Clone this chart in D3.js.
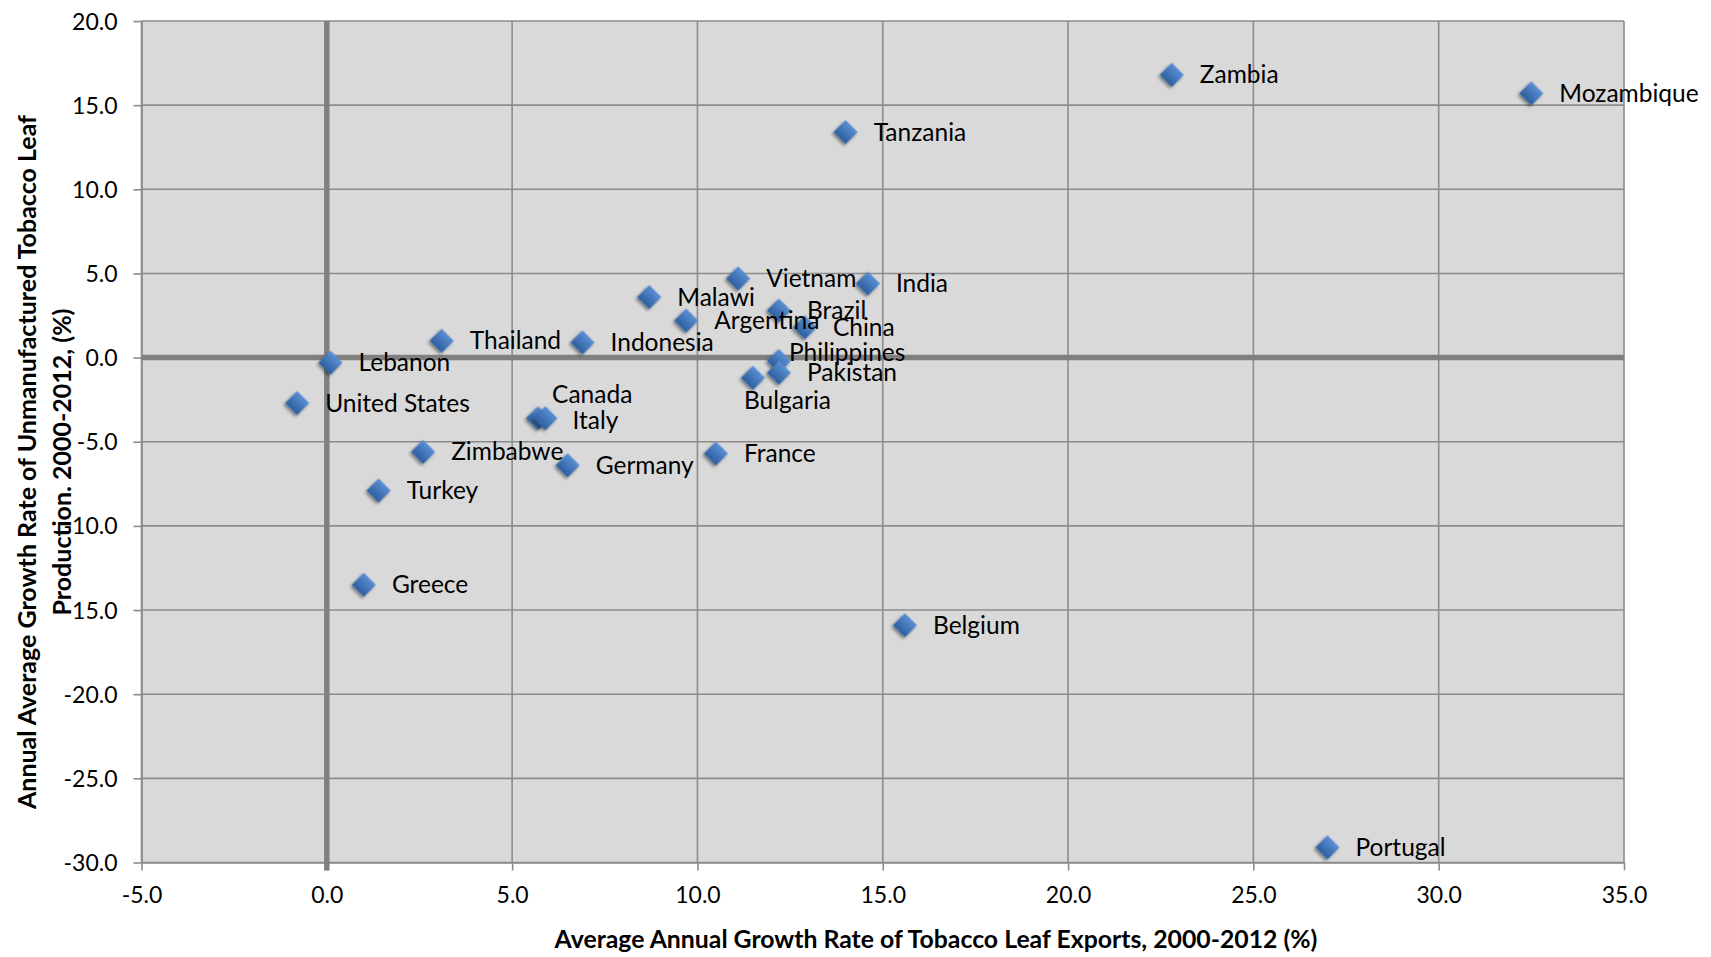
<!DOCTYPE html>
<html><head><meta charset="utf-8">
<script src="https://cdn.jsdelivr.net/npm/d3@7"></script>
<style>
body{margin:0;background:#fff}
svg text{font-family:Lato,"Open Sans",sans-serif;fill:#000}
</style>
</head><body>
<svg id="chart" width="1711" height="957"></svg>
<script>
// ---- data ----
const countries = ["Zambia","Mozambique","Tanzania","Vietnam","India","Malawi","Brazil","Argentina","China","Thailand","Indonesia","Lebanon","Philippines","Pakistan","Bulgaria","United States","Canada","Italy","Zimbabwe","Germany","France","Turkey","Greece","Belgium","Portugal"];
const exportGrowth = [22.8,32.5,14.0,11.1,14.6,8.7,12.2,9.7,12.9,3.1,6.9,0.1,12.2,12.2,11.5,-0.8,5.7,5.9,2.6,6.5,10.5,1.4,1.0,15.6,27.0];
const productionGrowth = [16.8,15.7,13.4,4.7,4.4,3.6,2.8,2.2,1.8,1.0,0.9,-0.3,-0.2,-0.9,-1.2,-2.7,-3.6,-3.6,-5.6,-6.4,-5.7,-7.9,-13.5,-15.9,-29.1];
const xTickValues = [-5,0,5,10,15,20,25,30,35];
const yTickValues = [-30,-25,-20,-15,-10,-5,0,5,10,15,20];
const xTitle = "Average Annual Growth Rate of Tobacco Leaf Exports, 2000-2012 (%)";
const yTitleLines = ["Annual Average Growth Rate of Unmanufactured Tobacco Leaf","Production. 2000-2012, (%)"];

// ---- layout (label nudges for crowded points) ----
const labelNudge = {
  "Philippines": [10,-9],
  "Bulgaria": [-9,23],
  "Canada": [14,-24],
  "Italy": [27,2]
};
const defaultNudge = [28,0];

const svg = d3.select("#chart");
const L = 141.5, R = 1624, T = 21, B = 862.5;
const x = d3.scaleLinear().domain([-5,35]).range([L,R]);
const y = d3.scaleLinear().domain([-30,20]).range([B,T]);

const defs = svg.append("defs");
const grad = defs.append("linearGradient").attr("id","dg").attr("x1","0").attr("y1","0").attr("x2","0").attr("y2","1");
grad.append("stop").attr("offset","0%").attr("stop-color","#5a8fd4");
grad.append("stop").attr("offset","100%").attr("stop-color","#2e5f9e");
const f = defs.append("filter").attr("id","sh").attr("x","-50%").attr("y","-50%").attr("width","200%").attr("height","200%");
f.append("feDropShadow").attr("dx",0).attr("dy",2.5).attr("stdDeviation",1.8).attr("flood-color","#000").attr("flood-opacity",0.45);

// background
svg.append("rect").attr("x",L).attr("y",T).attr("width",R-L).attr("height",B-T).attr("fill","#d9d9d9");

// grid
const g = svg.append("g");
g.selectAll("line.v").data(xTickValues.filter(d=>d!==0)).join("line")
  .attr("x1",d=>x(d)).attr("x2",d=>x(d)).attr("y1",T).attr("y2",B)
  .attr("stroke","#8c8c8c").attr("stroke-width",1.6);
g.selectAll("line.h").data(yTickValues.filter(d=>d!==0)).join("line")
  .attr("y1",d=>y(d)).attr("y2",d=>y(d)).attr("x1",L).attr("x2",R)
  .attr("stroke","#8c8c8c").attr("stroke-width",1.6);

// axes
const fmt = d=>d3.format(".1f")(d).replace("−","-");
const xAxis = d3.axisBottom(x).tickValues(xTickValues).tickFormat(fmt).tickSize(8).tickSizeOuter(0);
const yAxis = d3.axisLeft(y).tickValues(yTickValues).tickFormat(fmt).tickSize(8).tickSizeOuter(0);
const gx = svg.append("g").attr("transform",`translate(0,${B})`).call(xAxis);
const gy = svg.append("g").attr("transform",`translate(${L},0)`).call(yAxis);
[gx,gy].forEach(a=>{
  a.select(".domain").attr("stroke","#8c8c8c").attr("stroke-width",1.6);
  a.selectAll(".tick line").attr("stroke","#8c8c8c").attr("stroke-width",1.6);
  a.selectAll(".tick text").attr("font-size",23).attr("fill","#000").style("font-family","Lato,'Open Sans',sans-serif");
});
gx.selectAll(".tick text").attr("dy","0.71em").attr("y",24);
gy.selectAll(".tick text").attr("x",-24).attr("dy","0.35em");

// zero lines
svg.append("line").attr("x1",x(0)).attr("x2",x(0)).attr("y1",T).attr("y2",B+8).attr("stroke","#808080").attr("stroke-width",5.5);
svg.append("line").attr("x1",L).attr("x2",R).attr("y1",y(0)).attr("y2",y(0)).attr("stroke","#808080").attr("stroke-width",5.5);

// points
const pts = countries.map((c,i)=>({c, xv:exportGrowth[i], yv:productionGrowth[i]}));
svg.append("g").selectAll("rect").data(pts).join("rect")
  .attr("x",-8.5).attr("y",-8.5).attr("width",17).attr("height",17)
  .attr("transform",d=>`translate(${x(d.xv)},${y(d.yv)}) rotate(45)`)
  .attr("fill","url(#dg)").attr("filter","url(#sh)");

// labels
svg.append("g").selectAll("text").data(pts).join("text")
  .attr("x",d=>x(d.xv)+(labelNudge[d.c]||defaultNudge)[0])
  .attr("y",d=>y(d.yv)+(labelNudge[d.c]||defaultNudge)[1])
  .attr("dy","0.35em").attr("font-size",24.5)
  .text(d=>d.c);

// titles
svg.append("text").attr("x",936).attr("y",948).attr("text-anchor","middle")
  .attr("font-size",24.8).attr("font-weight","bold").text(xTitle);
const yt = svg.append("text").attr("transform","translate(0,462) rotate(-90)").attr("text-anchor","middle")
  .attr("font-size",25).attr("font-weight","bold");
yt.append("tspan").attr("x",0).attr("y",36).text(yTitleLines[0]);
yt.append("tspan").attr("x",0).attr("y",71).text(yTitleLines[1]);
</script>
</body></html>
